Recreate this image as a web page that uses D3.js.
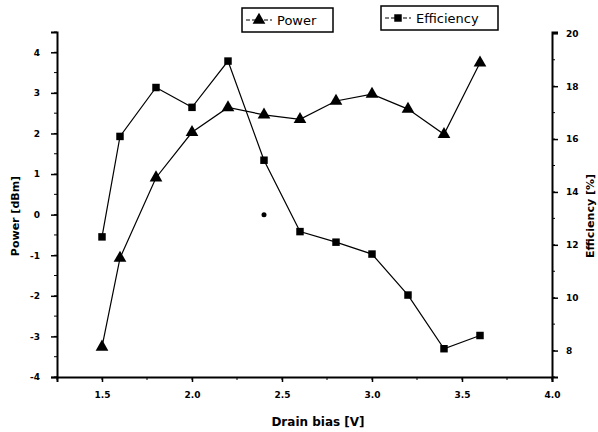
<!DOCTYPE html>
<html>
<head>
<meta charset="UTF-8">
<script src="https://cdn.jsdelivr.net/npm/d3@7"></script>
<style>
  body { margin: 0; background: #fff; }
  text { font-family: "DejaVu Sans", Arial, sans-serif; fill: #000; }
</style>
</head>
<body>
<svg width="598" height="432"></svg>
<script>
// data
var bias = [1.5, 1.6, 1.8, 2.0, 2.2, 2.4, 2.6, 2.8, 3.0, 3.2, 3.4, 3.6];
var power = [-3.26, -1.07, 0.91, 2.03, 2.64, 2.46, 2.35, 2.80, 2.97, 2.60, 1.98, 3.74];
var efficiency = [12.3, 16.1, 17.95, 17.2, 18.95, 15.2, 12.5, 12.1, 11.65, 10.1, 8.07, 8.57];
var strayDot = [2.4, 0]; // little dot in the scan
var xTicks = [1.5, 2.0, 2.5, 3.0, 3.5, 4.0];
var powerTicks = [-4, -3, -2, -1, 0, 1, 2, 3, 4];
var effTicks = [8, 10, 12, 14, 16, 18, 20];

var svg = d3.select("svg");
var plotL = 57, plotR = 552, plotT = 32, plotB = 377;

var x = d3.scaleLinear().domain([1.25, 4.0]).range([plotL, plotR]);
var yP = d3.scaleLinear().domain([-4, 4.5]).range([plotB, plotT]);
var yE = d3.scaleLinear().domain([7, 20.05]).range([plotB, plotT]);

// minor ticks
var minor = svg.append("g").attr("stroke", "#000").attr("stroke-width", 1);
d3.range(1.25, 4.01, 0.25).forEach(function(v){
  minor.append("line").attr("x1", x(v)).attr("x2", x(v)).attr("y1", plotB).attr("y2", plotB + 3);
});
d3.range(-4, 4.51, 0.5).forEach(function(v){
  minor.append("line").attr("x1", plotL).attr("x2", plotL - 3).attr("y1", yP(v)).attr("y2", yP(v));
});
d3.range(7, 20.01, 1).forEach(function(v){
  minor.append("line").attr("x1", plotR).attr("x2", plotR + 3).attr("y1", yE(v)).attr("y2", yE(v));
});

// axes
var intFmt = function(d){ return String(d); };
var xAxis = svg.append("g").attr("transform", "translate(0," + plotB + ")")
  .call(d3.axisBottom(x).tickValues(xTicks).tickFormat(d3.format(".1f")).tickSize(5).tickPadding(10));
var yAxisL = svg.append("g").attr("transform", "translate(" + plotL + ",0)")
  .call(d3.axisLeft(yP).tickValues(powerTicks).tickFormat(intFmt).tickSize(6).tickPadding(11));
var yAxisR = svg.append("g").attr("transform", "translate(" + plotR + ",0)")
  .call(d3.axisRight(yE).tickValues(effTicks).tickFormat(intFmt).tickSize(6).tickPadding(8));

[xAxis, yAxisL, yAxisR].forEach(function(a){
  a.select(".domain").attr("stroke", "#000").attr("stroke-width", 2);
  a.selectAll(".tick line").attr("stroke", "#000").attr("stroke-width", 1.5);
  a.selectAll("text").attr("font-size", 9)
    .style("font-family", "DejaVu Sans").style("font-weight", "bold");
});

// series lines
var linePower = d3.line().x(function(d, i){ return x(bias[i]); }).y(function(d){ return yP(d); });
var lineEff = d3.line().x(function(d, i){ return x(bias[i]); }).y(function(d){ return yE(d); });

svg.append("path").datum(power).attr("d", linePower)
  .attr("fill", "none").attr("stroke", "#000").attr("stroke-width", 1.2);
svg.append("path").datum(efficiency).attr("d", lineEff)
  .attr("fill", "none").attr("stroke", "#000").attr("stroke-width", 1.2);

var tri = d3.symbol().type(d3.symbolTriangle).size(70);
var sq = d3.symbol().type(d3.symbolSquare).size(56);

svg.selectAll(".tri").data(power).enter().append("path")
  .attr("d", tri)
  .attr("transform", function(d, i){ return "translate(" + x(bias[i]) + "," + yP(d) + ")"; })
  .attr("fill", "#000");
svg.selectAll(".sq").data(efficiency).enter().append("path")
  .attr("d", sq)
  .attr("transform", function(d, i){ return "translate(" + x(bias[i]) + "," + yE(d) + ")"; })
  .attr("fill", "#000");

svg.append("circle").attr("cx", x(strayDot[0])).attr("cy", yP(strayDot[1])).attr("r", 2.5).attr("fill", "#000");

// axis titles
svg.append("text").attr("x", 318).attr("y", 426).attr("text-anchor", "middle")
  .attr("font-size", 12).style("font-weight", "bold").text("Drain bias [V]");
svg.append("text").attr("transform", "translate(19,216) rotate(-90)").attr("text-anchor", "middle")
  .attr("font-size", 11).style("font-weight", "bold").text("Power [dBm]");
svg.append("text").attr("transform", "translate(594,216) rotate(-90)").attr("text-anchor", "middle")
  .attr("font-size", 11).style("font-weight", "bold").text("Efficiency [%]");

// legend
function legendBox(x0, y0, w, label, sym) {
  var g = svg.append("g").attr("transform", "translate(" + x0 + "," + y0 + ")");
  g.append("rect").attr("width", w).attr("height", 24).attr("fill", "#fff")
    .attr("stroke", "#000").attr("stroke-width", 1.5);
  g.append("line").attr("x1", 4).attr("x2", 30).attr("y1", 12).attr("y2", 12)
    .attr("stroke", "#000").attr("stroke-width", 1.2).attr("stroke-dasharray", "4,2");
  g.append("path").attr("d", sym).attr("transform", "translate(17,12)").attr("fill", "#000");
  g.append("text").attr("x", 35).attr("y", 17).attr("font-size", 13).text(label);
}
legendBox(242, 8, 91, "Power", tri);
legendBox(381, 6, 117, "Efficiency", sq);
</script>
</body>
</html>
